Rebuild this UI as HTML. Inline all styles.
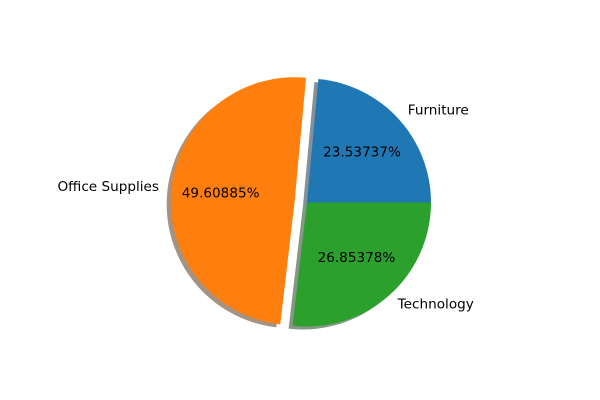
<!DOCTYPE html>
<html><head><meta charset="utf-8"><style>
html,body{margin:0;padding:0;background:#fff;}
svg{display:block;font-family:"DejaVu Sans","Liberation Sans",sans-serif;}
</style></head><body>
<svg id="chart" width="600" height="400" viewBox="0 0 600 400">
<rect width="600" height="400" fill="#fff"/>
<g id="shadows"></g>
<g id="wedges"></g>
<g id="labels"></g>
</svg>
<script>
const categories = ["Furniture", "Office Supplies", "Technology"];
const values = [23.53737, 49.60885, 26.85378];
const pctLabels = ["23.53737%", "49.60885%", "26.85378%"];
const explode = [0, 0.1, 0];
const colors = ["#1f77b4", "#ff7f0e", "#2ca02c"];
const shadowColors = ["#0a2336", "#4c2604", "#0d300d"];

const cx = 307, cy = 202.5, R = 124;
const NS = "http://www.w3.org/2000/svg";
const total = values.reduce((a, b) => a + b, 0);
const sG = document.getElementById("shadows");
const wG = document.getElementById("wedges");
const lG = document.getElementById("labels");

function pt(x0, y0, r, deg) {
  const a = deg * Math.PI / 180;
  return [x0 + r * Math.cos(a), y0 - r * Math.sin(a)];
}
function wedgePath(x0, y0, a1, a2) {
  const p1 = pt(x0, y0, R, a1), p2 = pt(x0, y0, R, a2);
  const large = (a2 - a1) > 180 ? 1 : 0;
  return `M${x0},${y0} L${p1[0]},${p1[1]} A${R},${R} 0 ${large} 0 ${p2[0]},${p2[1]} Z`;
}
let start = 0;
values.forEach((v, i) => {
  const sweep = v / total * 360;
  const end = start + sweep;
  const mid = (start + end) / 2;
  const [ox, oy] = pt(cx, cy, explode[i] * R, mid);
  const sh = document.createElementNS(NS, "path");
  sh.setAttribute("d", wedgePath(ox - 4, oy + 3, start, end));
  sh.setAttribute("fill", shadowColors[i]);
  sh.setAttribute("fill-opacity", "0.5");
  
  
  sG.appendChild(sh);
  const w = document.createElementNS(NS, "path");
  w.setAttribute("d", wedgePath(ox, oy, start, end));
  w.setAttribute("fill", colors[i]);
  
  
  wG.appendChild(w);
  const [lx, ly] = pt(ox, oy, 1.1 * R, mid);
  const t = document.createElementNS(NS, "text");
  t.setAttribute("x", lx); t.setAttribute("y", ly);
  t.setAttribute("dominant-baseline", "central");
  t.setAttribute("text-anchor", Math.cos(mid * Math.PI / 180) >= 0 ? "start" : "end");
  t.setAttribute("font-size", "13.6");
  t.textContent = categories[i];
  
  
  lG.appendChild(t);
  const [px, py] = pt(ox, oy, 0.6 * R, mid);
  const p = document.createElementNS(NS, "text");
  p.setAttribute("x", px); p.setAttribute("y", py);
  p.setAttribute("dominant-baseline", "central");
  p.setAttribute("text-anchor", "middle");
  p.setAttribute("font-size", "13.6");
  p.textContent = pctLabels[i];
  
  
  lG.appendChild(p);
  start = end;
});
</script>
</body></html>
